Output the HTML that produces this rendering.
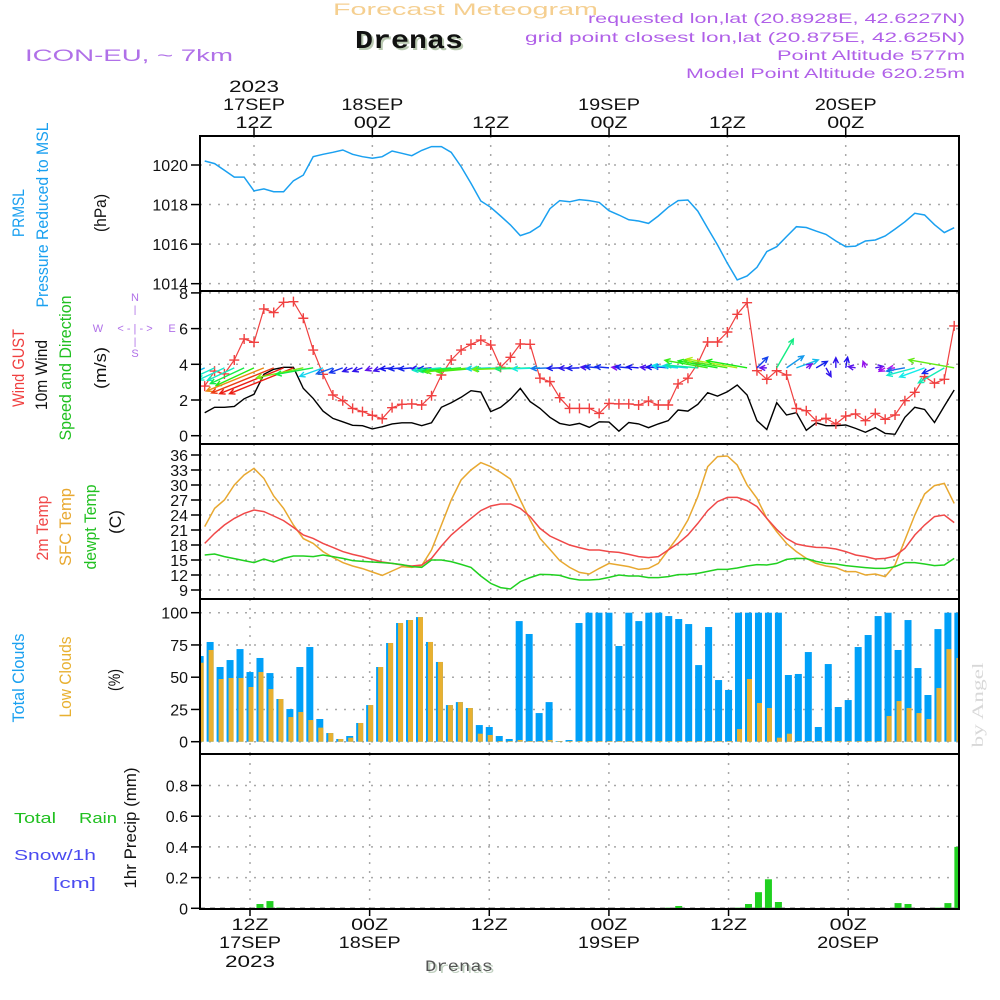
<!DOCTYPE html>
<html><head><meta charset="utf-8"><title>Meteogram Drenas</title>
<style>
html,body{margin:0;padding:0;background:#fff;}
svg{display:block;font-family:"Liberation Sans",sans-serif;}
</style></head>
<body>
<svg id="chart" width="1000" height="1000" viewBox="0 0 1000 1000"></svg>
<script>
// ---- data (hourly, t = hours since 00Z 17SEP; lines t=7..83, bars t=7..83) ----
const startHour = 7;
const pressure = [1020.2,1020.07,1019.73,1019.39,1019.39,1018.69,1018.79,1018.65,1018.65,1019.2,1019.49,1020.42,1020.54,1020.64,1020.76,1020.54,1020.42,1020.34,1020.42,1020.71,1020.59,1020.47,1020.74,1020.93,1020.93,1020.64,1019.92,1019.07,1018.18,1017.86,1017.42,1016.97,1016.43,1016.6,1016.92,1017.79,1018.2,1018.14,1018.25,1018.2,
1018.11,1017.69,1017.47,1017.23,1017.17,1017.05,1017.42,1017.86,1018.2,1018.23,1017.67,1016.8,1015.96,1015.03,1014.19,1014.39,1014.83,1015.62,1015.87,1016.38,1016.88,1016.84,1016.66,1016.49,1016.16,1015.87,1015.9,1016.16,1016.21,1016.41,1016.76,1017.13,1017.56,1017.47,1016.98,1016.58,1016.83];
const windGust = [2.78,3.62,3.46,4.24,5.42,5.23,7.1,6.9,7.47,7.51,6.58,4.8,3.44,2.28,1.96,1.53,1.35,1.14,0.95,1.57,1.76,1.78,1.72,2.24,3.4,4.24,4.8,5.12,5.36,5.08,3.83,4.39,5.14,5.12,3.22,3.03,2.13,1.53,1.53,1.53,
1.25,1.81,1.78,1.78,1.72,1.94,1.72,1.72,2.9,3.22,4.05,5.25,5.25,5.81,6.8,7.45,3.64,3.16,3.64,3.4,1.53,1.4,0.84,0.97,0.66,1.1,1.22,0.84,1.25,0.92,1.16,1.96,2.43,3.31,2.94,3.16,6.15];
const wind10m = [1.29,1.59,1.59,1.64,2.07,2.32,3.44,3.72,3.83,3.83,2.65,2.09,1.38,0.97,0.78,0.58,0.56,0.38,0.5,0.66,0.72,0.72,0.56,0.72,1.59,1.85,2.15,2.52,2.45,1.35,1.59,2.04,2.65,1.91,1.53,1.03,0.69,0.58,0.69,0.47,
0.78,0.76,0.25,0.74,0.66,0.45,0.66,0.84,1.44,1.38,1.76,2.41,2.22,2.46,2.84,2.28,0.84,0.35,1.85,1.16,1.29,0.3,0.72,0.56,0.56,0.6,0.41,0.19,0.45,0.13,0.08,1.03,1.59,1.47,0.74,1.66,2.56];
const windDir = [65,65,65,65,65,65,68,68,68,68,78,80,70,70,70,70,70,70,70,85,85,85,85,85,85,85,85,85,85,88,88,88,88,88,88,88,88,88,88,
95,95,95,95,95,95,95,95,95,95,95,95,100,100,100,100,100,225,90,210,235,250,235,240,330,180,190,100,160,260,60,85,80,75,70,65,60,100];
const temp2m = [18.33,20.33,22,23.33,24.33,25,24.67,23.8,22.87,21.53,20,19.33,18.33,17.53,16.67,16.13,15.67,15.13,14.6,14.33,14,13.8,14,15.33,17.8,20,21.67,23.33,24.87,25.8,26.2,26.2,25.33,23.67,21.33,19.8,18.87,18,17.47,17,
17,16.67,16.53,16.13,15.67,15.47,15.67,17,18.33,20,22.33,24.87,26.67,27.53,27.53,26.87,25.67,23.33,21.13,19.33,18.2,17.8,17.53,17.47,17.2,16.67,16,15.67,15.2,15.33,15.8,17.33,20,22,23.67,24,22.47];
const tempSfc = [21.67,25.33,27,30,32,33.33,31.33,27.8,25.33,22,19.27,18.33,16.67,15.53,14.47,13.8,13.27,12.6,11.93,12.8,13.67,13.53,13.87,17,22,27,31,33,34.47,33.67,32.53,31.2,27,23,19.33,17.13,14.87,13.53,12.53,12.2,
13.33,14.33,14,13.67,13.13,13.33,14.33,17,19.67,23,27.67,33.67,35.67,35.8,34,30,27.33,23.33,20.67,18.33,16.67,15.33,14.33,13.8,13.47,12.67,12.67,12,12.2,11.67,14,19,24,28.2,29.87,30.33,26.33];
const dewpt = [16,16.2,15.67,15.27,14.87,14.47,15.2,14.6,15.33,15.8,15.8,15.67,16,15.67,15.33,14.87,14.73,14.6,14.47,14.33,14.07,13.67,13.53,15,15,14.67,14.13,13.53,11.8,10.33,9.47,9.2,10.67,11.47,12.13,12.07,11.93,11.33,11,11,
11.13,11.53,12,11.8,11.8,11.47,11.47,11.67,12.07,12.13,12.33,12.73,13.13,13.13,13.4,13.8,14.07,14,14.33,15.13,15.33,15.27,14.73,14.33,14.2,13.87,13.67,13.47,13.33,13.33,13.67,14.47,14.47,14.2,13.87,14,15.33];
const totalClouds = [66.4,77.3,57.9,63.3,71.8,54,64.9,53.2,33.1,25.3,57.9,73.4,17.6,6.7,2.1,4.4,14.5,28.4,57.9,76.5,92,94.3,96.6,77.3,61.8,28.4,30.7,26.1,12.9,11.4,4.4,2.1,93.5,83.5,22.2,30.7,0.5,1.3,92,100,
100,100,74.2,100,93.5,100,100,97.4,95.1,91.2,59.4,88.9,47.8,40.1,100,100,100,100,100,51.7,52.5,69.5,11.4,60.2,26.9,32.3,73.4,82.7,97.4,100,71.1,94.3,57.1,36.2,87.3,100,100];
const lowClouds = [61.2,71.1,48.6,49.4,49.4,42.4,54,40.8,33.1,19.1,23,16.8,10.9,6.7,2.1,3.1,14.5,28.4,57.9,76.5,92,94.3,96.6,77.3,61.8,28.4,30.7,26.1,6.2,5.2,0.5,0.5,1.3,0.5,0.5,1.3,0.5,0.5,0.5,0.5,
0.5,0.5,0.5,0.5,0.5,0.5,0.5,0.5,0.5,0.5,0.5,0.5,0.5,0.5,9.8,48.6,30,26.1,3.1,6.2,0.5,0.5,0.5,0.5,0.5,0.5,0.5,0.5,0.5,19.9,31.5,26.1,22.2,17.6,41.6,71.8,64.9];
const precip = [0,0,0,0,0,0,0.028,0.047,0.005,
0,0,0,0,0,0,0,0,0,0,0,0,0,0,0,0,0,0,0,0,0,0,0,0,0,0,0,0,0,0,0,0,0,0,0,0,0,0,
0.004,0.015,0,0,0,0,0,0.004,0.028,0.105,0.189,0.041,0,0,0,0,0,0,0,0,0,0,0,0.034,0.028,0,0,0.004,0.034,0.40];
const pressureTicks = [1014,1016,1018,1020];
const windTicks = [0,2,4,6,8];
const tempTicks = [9,12,15,18,21,24,27,30,33,36];
const cloudTicks = [0,25,50,75,100];
const precipTicks = ["0","0.2","0.4","0.6","0.8"];
const gridHours = [12,24,36,48,60,72];
const topDayLabels = ["17SEP","18SEP","","19SEP","","20SEP"];
const topHourLabels = ["12Z","00Z","12Z","00Z","12Z","00Z"];

// ---- axis functions ----
const X0=200, X1=959;
const xl = t => 254 + 9.862*(t-12);   // line panels
const xb = t => 250 + 9.97*(t-12);    // bar panels
const yP = p => 165 + (1020-p)*19.78;
const yW = w => 435.7 - 17.85*w;
const yT = T => 455 + (36-T)*5;
const yC = v => 741.7 - 1.29*v;
const yR = r => 908.3 - 153.5*r;
const panels = [[136,291],[291,444],[444,599],[599,754],[754,909]];

const NS="http://www.w3.org/2000/svg";
const svg=document.getElementById('chart');
function mk(tag, attrs, parent){const e=document.createElementNS(NS,tag);for(const k in attrs)e.setAttribute(k,attrs[k]);(parent||svg).appendChild(e);return e;}
function txt(s, attrs, parent){const e=mk('text',attrs,parent);e.textContent=s;return e;}

const defs=mk('defs',{});
panels.forEach((p,i)=>{const c=mk('clipPath',{id:'clip'+i},defs);mk('rect',{x:X0,y:p[0],width:X1-X0,height:p[1]-p[0]},c);});

function hgrid(y){const g=mk('line',{x1:X0,x2:X1,y1:y,y2:y,stroke:'#a8a8a8','stroke-width':1.5,'stroke-dasharray':'2,7'});

}
function tick(y,label){const l=mk('line',{x1:191,x2:200,y1:y,y2:y,stroke:'#000','stroke-width':1.5});


const t=txt(label,{x:188,y:y+6,'text-anchor':'end','font-size':16,fill:'#111'});

}
panels.forEach((p,i)=>{
  const fx = i>=3 ? xb : xl;
  gridHours.forEach(h=>{const g=mk('line',{x1:fx(h),x2:fx(h),y1:p[0],y2:p[1],stroke:'#a8a8a8','stroke-width':1.5,'stroke-dasharray':'2,7'});
  
  });
});
pressureTicks.forEach(v=>{hgrid(yP(v));tick(yP(v),String(v));});
windTicks.forEach(v=>{hgrid(yW(v));tick(yW(v),String(v));});
tempTicks.forEach(v=>{hgrid(yT(v));tick(yT(v),String(v));});
cloudTicks.forEach(v=>{hgrid(yC(v));tick(yC(v),String(v));});
precipTicks.forEach(v=>{if(+v>0)hgrid(yR(+v));tick(yR(+v),v);});

function linePath(arr, fy, fx){return arr.map((v,i)=>(i?'L':'M')+fx(startHour+i).toFixed(1)+','+fy(v).toFixed(1)).join('');}
const pl=mk('path',{d:linePath(pressure,yP,xl),fill:'none',stroke:'#1aa0f0','stroke-width':1.5,'clip-path':'url(#clip0)'});



const wg=mk('g',{'clip-path':'url(#clip1)'});


const w10=mk('path',{d:linePath(wind10m,yW,xl),fill:'none',stroke:'#000','stroke-width':1.4},wg);


const gl=mk('path',{d:linePath(windGust,yW,xl),fill:'none',stroke:'#f04040','stroke-width':1.2},wg);


windGust.forEach((v,i)=>{const x=xl(startHour+i),y=yW(v);
  const m=mk('path',{d:`M${x-5},${y}H${x+5}M${x},${y-5}V${y+5}`,stroke:'#f04040','stroke-width':1.4},wg);
  
  });
const arrowY = yW(3.8);
windDir.forEach((d,i)=>{
  const s=wind10m[i]; const x=xl(startHour+i);
  const to=(d+180)*Math.PI/180; const len=Math.max(7,18*s);
  const dx=Math.sin(to)*len, dy=-Math.cos(to)*len;
  const hue=Math.max(0,Math.min(285,290-75*s));
  const col=`hsl(${hue},85%,50%)`;
  const ex=x+dx, ey=arrowY+dy; const a=Math.atan2(dy,dx);
  const h1x=ex-6*Math.cos(a-0.45), h1y=ey-6*Math.sin(a-0.45), h2x=ex-6*Math.cos(a+0.45), h2y=ey-6*Math.sin(a+0.45);
  const ar=mk('path',{d:`M${x},${arrowY}L${ex},${ey}M${h1x},${h1y}L${ex},${ey}L${h2x},${h2y}`,stroke:col,'stroke-width':1.4,fill:'none'},wg);
  
  
});

const tg=mk('g',{'clip-path':'url(#clip2)'});
[[tempSfc,'#e8a830','sfc-temp-line'],[temp2m,'#f04848','temp-2m-line'],[dewpt,'#20d020','dewpt-line']].forEach(([arr,c,n])=>{
  const p=mk('path',{d:linePath(arr,yT,xl),fill:'none',stroke:c,'stroke-width':1.5},tg);
  
  
});

const cg=mk('g',{'clip-path':'url(#clip3)'});
totalClouds.forEach((v,i)=>{const x=xb(startHour+i);
  const b=mk('rect',{x:x-3.5,y:yC(v),width:7,height:yC(0)-yC(v),fill:'#00a0f8'},cg);
  
  
  const lv=lowClouds[i];
  const lb=mk('rect',{x:x-1.5,y:yC(lv),width:5,height:yC(0)-yC(lv),fill:'#e8b030'},cg);
  
  
});

const rg=mk('g',{'clip-path':'url(#clip4)'});
precip.forEach((v,i)=>{if(v<=0)return;const x=xb(startHour+i);
  const b=mk('rect',{x:x-3.5,y:yR(v),width:7,height:yR(0)-yR(v),fill:'#20d020'},rg);
  
  
});
const base=mk('line',{x1:X0,x2:X1,y1:908.5,y2:908.5,stroke:'#777','stroke-width':2,'stroke-dasharray':'5,5'});



panels.forEach((p,i)=>{const f=mk('rect',{x:X0,y:p[0],width:X1-X0,height:p[1]-p[0],fill:'none',stroke:'#000','stroke-width':2});

});

gridHours.forEach((h,i)=>{
  const xt=xl(h), xbt=xb(h);
  const t1=mk('line',{x1:xt,x2:xt,y1:128,y2:136,stroke:'#000','stroke-width':1.5});
  
  
  const t2=mk('line',{x1:xbt,x2:xbt,y1:909,y2:916,stroke:'#000','stroke-width':1.5});
  
  
  const a=txt(topHourLabels[i],{x:xt,y:128,'text-anchor':'middle','font-size':17,fill:'#111',textLength:37,lengthAdjust:'spacingAndGlyphs'});
  
  
  const b=txt(topHourLabels[i],{x:xbt,y:930,'text-anchor':'middle','font-size':17,fill:'#111',textLength:37,lengthAdjust:'spacingAndGlyphs'});
  
  
  if(topDayLabels[i]){
    const c=txt(topDayLabels[i],{x:xt,y:110,'text-anchor':'middle','font-size':17,fill:'#111',textLength:62,lengthAdjust:'spacingAndGlyphs'});
    
    
    const d=txt(topDayLabels[i],{x:xbt,y:948,'text-anchor':'middle','font-size':17,fill:'#111',textLength:62,lengthAdjust:'spacingAndGlyphs'});
    
    
  }
});
const yr1=txt('2023',{x:xl(12),y:92,'text-anchor':'middle','font-size':17,fill:'#111',textLength:50,lengthAdjust:'spacingAndGlyphs'});


const yr2=txt('2023',{x:xb(12),y:967,'text-anchor':'middle','font-size':17,fill:'#111',textLength:50,lengthAdjust:'spacingAndGlyphs'});



function T(s,x,y,opts,name){const e=txt(s,Object.assign({x:x,y:y},opts));return e;}
T('Forecast Meteogram',333,15,{'font-size':17,fill:'#f5cf90',textLength:265,lengthAdjust:'spacingAndGlyphs'},'main-title');
T('Drenas',357,50,{'font-size':26,'font-weight':'bold','font-family':'Liberation Mono, monospace',fill:'#b8c8b0',textLength:108,lengthAdjust:'spacingAndGlyphs'},'station-title-shadow');
T('Drenas',355,48,{'font-size':26,'font-weight':'bold','font-family':'Liberation Mono, monospace',fill:'#111',textLength:108,lengthAdjust:'spacingAndGlyphs'},'station-title');
T('ICON-EU, ~ 7km',25,61,{'font-size':17,fill:'#b070e8',textLength:208,lengthAdjust:'spacingAndGlyphs'},'model-label');
T('requested lon,lat (20.8928E, 42.6227N)',588,23,{'font-size':14,fill:'#b060e8',textLength:377,lengthAdjust:'spacingAndGlyphs'},'requested-coords');
T('grid point closest lon,lat (20.875E, 42.625N)',525,42,{'font-size':14,fill:'#b060e8',textLength:440,lengthAdjust:'spacingAndGlyphs'},'grid-point-coords');
T('Point Altitude 577m',777,60,{'font-size':14,fill:'#b060e8',textLength:188,lengthAdjust:'spacingAndGlyphs'},'point-altitude');
T('Model Point Altitude 620.25m',686,78,{'font-size':14,fill:'#b060e8',textLength:279,lengthAdjust:'spacingAndGlyphs'},'model-altitude');
T('Drenas',427,973,{'font-size':16,'font-family':'Liberation Mono, monospace',fill:'#c0d0c0',textLength:68,lengthAdjust:'spacingAndGlyphs'},'footer-station-shadow');
T('Drenas',425,971,{'font-size':16,'font-family':'Liberation Mono, monospace',fill:'#555',textLength:68,lengthAdjust:'spacingAndGlyphs'},'footer-station');

function R(s,x,cy,len,col,name){const e=txt(s,{x:0,y:0,'text-anchor':'middle','font-size':17,fill:col,textLength:len,lengthAdjust:'spacingAndGlyphs',transform:`translate(${x},${cy}) rotate(-90)`});return e;}
R('PRMSL',24,213,48,'#1aa0f0','prmsl-label');
R('Pressure Reduced to MSL',48,215,185,'#1aa0f0','pressure-label');
R('(hPa)',106,213,38,'#111','hpa-label');
R('Wind GUST',24,368,78,'#f04040','wind-gust-label');
R('10m Wind',47,375,70,'#111','wind-10m-label');
R('Speed and Direction',71,368,145,'#20c020','speed-direction-label');
R('(m/s)',106,368,42,'#111','ms-label');
R('2m Temp',48,528,65,'#f04848','temp-2m-label');
R('SFC Temp',71,527,78,'#e8a830','sfc-temp-label');
R('dewpt Temp',96,527,85,'#20c020','dewpt-label');
R('(C)',121,522,24,'#111','celsius-label');
R('Total Clouds',24,678,89,'#1aa0f0','total-clouds-label');
R('Low Clouds',71,677,81,'#e8b030','low-clouds-label');
R('(%)',120,680,22,'#111','percent-label');
R('1hr Precip (mm)',136,828,121,'#111','precip-axis-label');
const wm=txt('by Angel',{x:0,y:0,'text-anchor':'middle','font-size':16,fill:'#d8d8d8','font-family':'Liberation Serif, serif',textLength:85,lengthAdjust:'spacingAndGlyphs',transform:'translate(983,705) rotate(-90)'});



T('Total',14,823,{'font-size':15,fill:'#20c020',textLength:42,lengthAdjust:'spacingAndGlyphs'},'legend-total');
T('Rain',79,823,{'font-size':15,fill:'#20c020',textLength:38,lengthAdjust:'spacingAndGlyphs'},'legend-rain');
T('Snow/1h',14,860,{'font-size':15,fill:'#4a4af0',textLength:82,lengthAdjust:'spacingAndGlyphs'},'legend-snow');
T('[cm]',53,888,{'font-size':15,fill:'#4a4af0',textLength:43,lengthAdjust:'spacingAndGlyphs'},'legend-cm');

const cc='#b070e8';
T('N',135,301,{'font-size':11,fill:cc,'text-anchor':'middle'},'compass-n');
T('|',135,313,{'font-size':10,fill:cc,'text-anchor':'middle'},'compass-line-n');
T('W',98,332,{'font-size':11,fill:cc,'text-anchor':'middle'},'compass-w');
T('< - | - >',135,332,{'font-size':11,fill:cc,'text-anchor':'middle'},'compass-axis');
T('E',172,332,{'font-size':11,fill:cc,'text-anchor':'middle'},'compass-e');
T('|',135,345,{'font-size':10,fill:cc,'text-anchor':'middle'},'compass-line-s');
T('S',135,357,{'font-size':11,fill:cc,'text-anchor':'middle'},'compass-s');
</script>
</body></html>
